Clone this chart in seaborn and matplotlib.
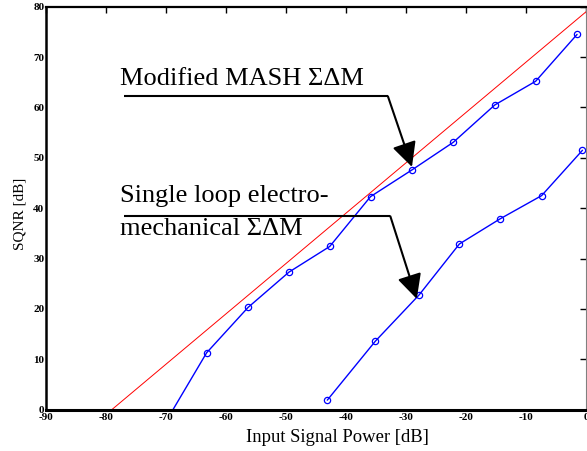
import matplotlib
matplotlib.use("Agg")
import matplotlib.pyplot as plt
import seaborn as sns
import pandas as pd

# ---- data ----
mash_x = [-70.0, -63.2, -56.3, -49.5, -42.7, -35.9, -29.0, -22.1, -15.2, -8.4, -1.5]
mash_y = [-2.4, 11.3, 20.3, 27.3, 32.4, 42.3, 47.6, 53.1, 60.5, 65.2, 74.5]
single_x = [-43.1, -35.1, -27.8, -21.1, -14.3, -7.4, -0.6]
single_y = [1.9, 13.6, 22.8, 32.9, 37.9, 42.5, 51.5]
ideal_x = [-79.0, 0.0]
ideal_y = [0.0, 79.0]
xticks = [-90, -80, -70, -60, -50, -40, -30, -20, -10, 0]
yticks = [0, 10, 20, 30, 40, 50, 60, 70, 80]
label_mash = "Modified MASH \u03a3\u0394M"
label_single_1 = "Single loop electro-"
label_single_2 = "mechanical \u03a3\u0394M"

sns.set_style("white")
plt.rcParams['font.family'] = ['Liberation Serif', 'DejaVu Serif']
plt.rcParams['text.color'] = 'black'
plt.rcParams['axes.labelcolor'] = 'black'

fig = plt.figure(figsize=(5.87, 4.51), dpi=100)
ax = fig.add_axes([0.0779, 0.0916, 0.9205, 0.8935])

df_ideal = pd.DataFrame({"x": ideal_x, "y": ideal_y})
df_mash = pd.DataFrame({"x": mash_x, "y": mash_y})
df_single = pd.DataFrame({"x": single_x, "y": single_y})

sns.lineplot(data=df_ideal, x="x", y="y", ax=ax, color="#ff0000", lw=0.7, sort=False)
for d in (df_mash, df_single):
    sns.lineplot(data=d, x="x", y="y", ax=ax, color="#0000ff", lw=1.0, sort=False,
                 marker="o", markersize=4.5, markerfacecolor="none",
                 markeredgecolor="#0000ff", markeredgewidth=0.9)

ax.set_xlim(-90, 0)
ax.set_ylim(0, 80)
ax.set_xticks(xticks)
ax.set_yticks(yticks)
ax.set_xticklabels([str(t) for t in xticks], fontweight="bold", fontsize=8)
ax.set_yticklabels([str(t) for t in yticks], fontweight="bold", fontsize=8)
ax.tick_params(direction="in", length=4.5, width=1, top=True, right=True,
               pad=2.5, colors="black")
ax.tick_params(axis="y", pad=1.0)
ax.set_xlabel("Input Signal Power [dB]", fontsize=13.4, color="black")
ax.set_ylabel("SQNR [dB]", fontsize=11, color="black")
ax.xaxis.set_label_coords(0.539, -0.048)
ax.yaxis.set_label_coords(-0.0365, 0.486)

for side, lw, c in (("bottom", 2.2, "black"), ("left", 1.8, "black"),
                    ("top", 1.6, "black"), ("right", 0.8, "#808080")):
    ax.spines[side].set_linewidth(lw)
    ax.spines[side].set_color(c)
    ax.spines[side].set_visible(True)

# annotations
ax.text(-77.6, 64.4, label_mash, fontsize=19, ha="left", va="baseline", color="black")
ax.plot([-77.0, -33.0], [62.2, 62.2], color="black", lw=1.5, solid_capstyle="butt")
ax.annotate("", xy=(mash_x[6], mash_y[6] + 0.6), xytext=(-33.0, 62.2),
            arrowprops=dict(arrowstyle="-|>,head_length=0.6,head_width=0.3",
                            mutation_scale=25, lw=1.5, color="black",
                            shrinkA=0, shrinkB=0))

ax.text(-77.6, 41.2, label_single_1, fontsize=19, ha="left", va="baseline", color="black")
ax.text(-77.6, 34.6, label_single_2, fontsize=19, ha="left", va="baseline", color="black")
ax.plot([-77.0, -32.6], [38.4, 38.4], color="black", lw=1.5, solid_capstyle="butt")
ax.annotate("", xy=(single_x[2] - 0.4, single_y[2] - 0.8), xytext=(-32.6, 38.4),
            arrowprops=dict(arrowstyle="-|>,head_length=0.6,head_width=0.3",
                            mutation_scale=25, lw=1.5, color="black",
                            shrinkA=0, shrinkB=0))

fig.savefig("out.png", dpi=100)
